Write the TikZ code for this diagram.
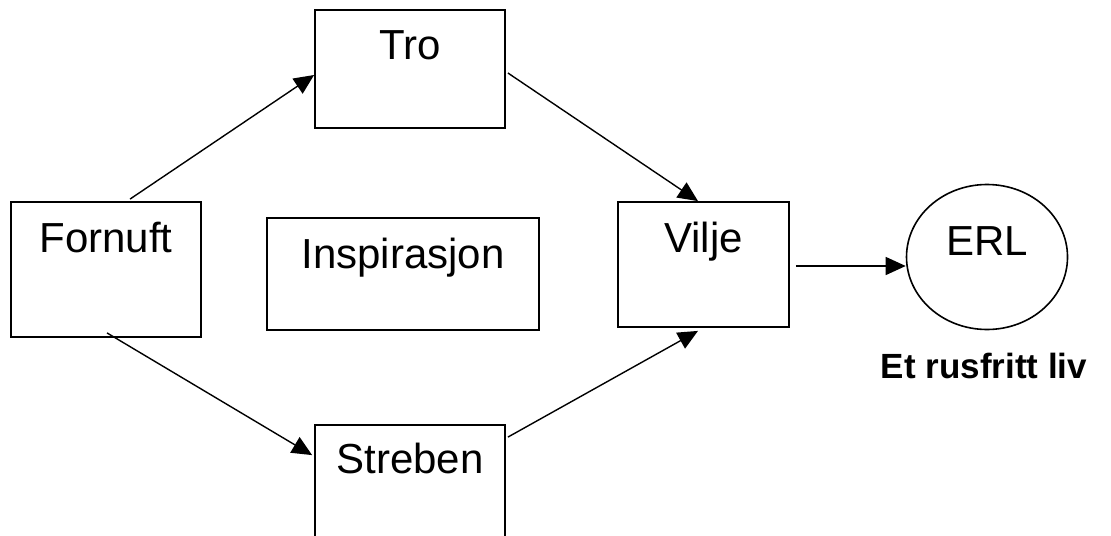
\documentclass[tikz,border=0pt]{standalone}
\usepackage{fontspec}
\setmainfont{Liberation Sans}
\usetikzlibrary{arrows.meta,positioning,calc,shapes.geometric}

\begin{document}
\begin{tikzpicture}[x=0.5pt,y=-0.5pt,>={Triangle[length=10pt,width=9pt]},every node/.style={font=\fontsize{21pt}{25pt}\selectfont}]
\tikzset{box/.style={draw,line width=0.9pt,inner sep=0pt,text height=25pt,minimum width=95pt},goal/.style={draw,ellipse,line width=0.8pt,inner sep=0pt,minimum width=80.5pt,minimum height=72.5pt,text height=16pt,text depth=18pt},link/.style={->,line width=0.7pt}}
\useasboundingbox (0,0) rectangle (1111,535);
\node[box,text depth=34pt] (tro) at (410,69) {Tro};
\node[box,text depth=42.5pt] (fornuft) at (106,269.5) {Fornuft};
\node[box,text depth=31pt,minimum width=136pt] (insp) at (403,274) {Inspirasjon};
\node[box,text depth=37.5pt,minimum width=85.5pt] (vilje) at (703.5,264.5) {Vilje};
\node[box,text height=24pt,text depth=43.5pt] (streben) at (410,492.5) {Streben};
\node[goal] (erl) at (987,257) {ERL};
\node[below=11pt of erl,xshift=-1.5pt,inner sep=0pt,font=\fontsize{17.5pt}{21pt}\selectfont\bfseries] (liv) {Et rusfritt liv};
\draw[link] ($(fornuft.north)+(24,-2)$)--($(tro.west)+(0,6)$);
\draw[link] ($(tro.east)+(2,4)$)--($(vilje.north)+(-5.5,0)$);
\draw[link] ($(fornuft.south)+(1,-5)$)--($(streben.north west)+(-2,31)$);
\draw[link] ($(streben.north east)+(2,13)$)--($(vilje.south)+(-5.5,3)$);
\draw[link] ($(vilje.east)+(6,1.5)$)--($(erl.west)+(0,9)$);
\end{tikzpicture}
\end{document}
